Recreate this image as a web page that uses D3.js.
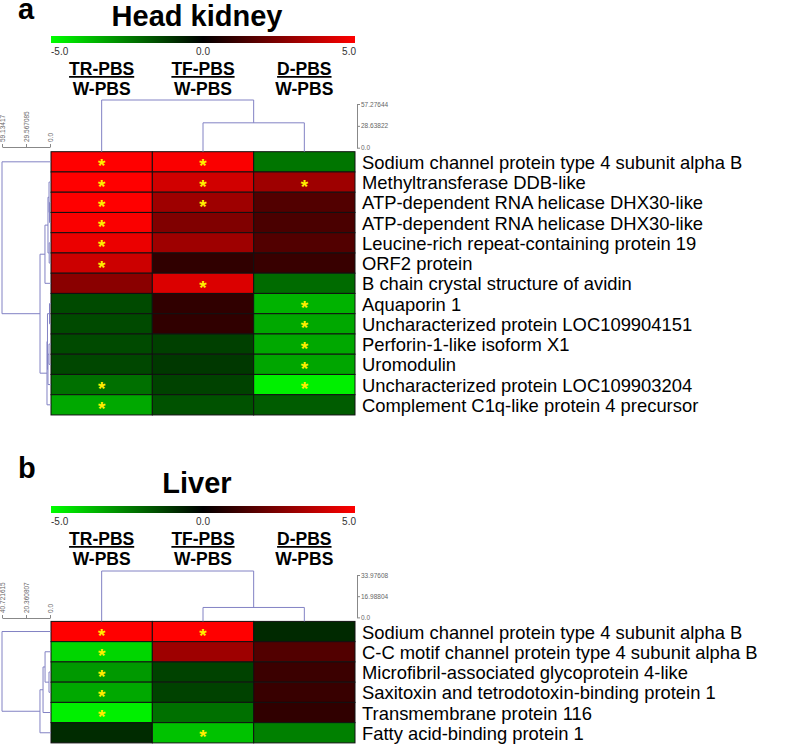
<!DOCTYPE html>
<html>
<head>
<meta charset="utf-8">
<script src="https://cdn.jsdelivr.net/npm/d3@7"></script>
<style>
  body { margin: 0; background: #fff; }
  svg text { font-family: "Liberation Sans", Arial, sans-serif; }
</style>
</head>
<body>
<svg id="chart" width="788" height="747"></svg>
<script>
// ---- data ----
const columns = ["TR-PBS", "TF-PBS", "D-PBS"];
const columnsBottom = ["W-PBS", "W-PBS", "W-PBS"];
const colorTicks = [-5, 0, 5];
const colorTickLabels = ["-5.0", "0.0", "5.0"];

const kidneyGenes = [
  "Sodium channel protein type 4 subunit alpha B",
  "Methyltransferase DDB-like",
  "ATP-dependent RNA helicase DHX30-like",
  "ATP-dependent RNA helicase DHX30-like",
  "Leucine-rich repeat-containing protein 19",
  "ORF2 protein",
  "B chain crystal structure of avidin",
  "Aquaporin 1",
  "Uncharacterized protein LOC109904151",
  "Perforin-1-like isoform X1",
  "Uromodulin",
  "Uncharacterized protein LOC109903204",
  "Complement C1q-like protein 4 precursor"
];
const kidneyValues = [
  [5.0, 4.9, -2.3],
  [5.0, 4.1, 3.1],
  [5.0, 3.1, 1.6],
  [4.9, 2.5, 1.45],
  [4.6, 3.1, 1.6],
  [4.0, 0.95, 1.1],
  [2.7, 4.3, -2.1],
  [-1.45, 0.95, -3.5],
  [-1.45, 0.95, -3.3],
  [-1.45, -1.25, -3.3],
  [-1.4, -1.1, -3.25],
  [-2.2, -1.3, -4.7],
  [-3.3, -1.6, -1.8]
];
const kidneyStars = [
  [1, 1, 0], [1, 1, 1], [1, 1, 0], [1, 0, 0], [1, 0, 0], [1, 0, 0], [0, 1, 0],
  [0, 0, 1], [0, 0, 1], [0, 0, 1], [0, 0, 1], [1, 0, 1], [1, 0, 0]
];
// linkage rows: [childA, childB, height]; ids >= n are earlier merges
const kidneyRowLinkage = [
  [2, 3, 0.6], [1, 13, 1.2], [4, 5, 1.0], [14, 15, 2.5], [16, 6, 6.2],
  [7, 8, 0.6], [9, 10, 1.2], [19, 11, 2.5], [18, 20, 3.1], [21, 12, 3.7],
  [17, 22, 12.3], [0, 23, 59.13417]
];
const kidneyRowAxis = ["59.13417", "29.567085", "0.0"];
const kidneyColLinkage = [[1, 2, 32], [0, 3, 57.27644]];
const kidneyColAxis = ["57.27644", "28.63822", "0.0"];

const liverGenes = [
  "Sodium channel protein type 4 subunit alpha B",
  "C-C motif channel protein type 4 subunit alpha B",
  "Microfibril-associated glycoprotein 4-like",
  "Saxitoxin and tetrodotoxin-binding protein 1",
  "Transmembrane protein 116",
  "Fatty acid-binding protein 1"
];
const liverValues = [
  [5.0, 5.0, -0.8],
  [-4.2, 3.1, 1.6],
  [-3.0, -1.3, 1.15],
  [-3.3, -1.3, 1.1],
  [-4.7, -2.2, 0.95],
  [-0.85, -3.8, -2.5]
];
const liverStars = [[1, 1, 0], [1, 0, 0], [1, 0, 0], [1, 0, 0], [1, 0, 0], [0, 1, 0]];
const liverRowLinkage = [[2, 3, 0.85], [1, 6, 4.2], [7, 4, 5.9], [8, 5, 8.5], [0, 9, 40.721615]];
const liverRowAxis = ["40.721615", "20.360807", "0.0"];
const liverColLinkage = [[1, 2, 9.4], [0, 3, 33.97608]];
const liverColAxis = ["33.97608", "16.98804", "0.0"];

// ---- drawing ----
const svg = d3.select("#chart");
const color = d3.scaleLinear().domain(colorTicks).range(["#00ff00", "#000000", "#ff0000"]).clamp(true);
const dendroColor = "#8282c4";
const heatLeft = 51, heatRight = 355, rowH = 20.25;

const grad = svg.append("defs").append("linearGradient").attr("id", "cbar");
grad.selectAll("stop").data(colorTicks).join("stop")
  .attr("offset", (d, i) => i / (colorTicks.length - 1))
  .attr("stop-color", d => color(d));

function nodes(n, linkage, leafPos) {
  const pos = leafPos.slice(), h = new Array(n).fill(0);
  linkage.forEach(([a, b, d], k) => { pos[n + k] = (pos[a] + pos[b]) / 2; h[n + k] = d; });
  return { pos, h };
}

function panel(p) {
  const g = svg.append("g");
  const nRows = p.genes.length;
  const heatBottom = p.heatTop + nRows * rowH;
  const x = d3.scaleBand().domain(d3.range(columns.length)).range([heatLeft, heatRight]);
  const y = d3.scaleBand().domain(d3.range(nRows)).range([p.heatTop, heatBottom]);

  g.append("text").attr("x", 18).attr("y", p.letterY).attr("font-size", 29)
    .attr("font-weight", "bold").text(p.letter);
  g.append("text").attr("x", 197).attr("y", p.titleY).attr("text-anchor", "middle")
    .attr("font-size", 29).attr("font-weight", "bold").text(p.title);

  // colour bar
  g.append("rect").attr("x", heatLeft).attr("y", p.barY).attr("width", heatRight - heatLeft)
    .attr("height", 7).attr("fill", "url(#cbar)");
  const cx = d3.scaleLinear().domain([-5, 5]).range([heatLeft, heatRight]);
  g.selectAll(".cb").data(colorTicks).join("text")
    .attr("x", d => cx(d) + (d > 0 ? 1 : 0))
    .attr("y", p.barY + 19).attr("font-size", 10).attr("fill", "#333")
    .attr("text-anchor", (d, i) => i === 0 ? "start" : i === colorTicks.length - 1 ? "end" : "middle")
    .text((d, i) => colorTickLabels[i]);

  // column headers
  g.selectAll(".h1").data(columns).join("text")
    .attr("x", (d, i) => x(i) + x.bandwidth() / 2).attr("y", p.barY + 39)
    .attr("text-anchor", "middle").attr("font-size", 17.5).attr("font-weight", "bold")
    .attr("text-decoration", "underline").text(d => d);
  g.selectAll(".h2").data(columnsBottom).join("text")
    .attr("x", (d, i) => x(i) + x.bandwidth() / 2).attr("y", p.barY + 59)
    .attr("text-anchor", "middle").attr("font-size", 17.5).attr("font-weight", "bold").text(d => d);

  // heatmap cells
  const cells = [];
  p.values.forEach((row, r) => row.forEach((v, c) => cells.push({ r, c, v, s: p.stars[r][c] })));
  g.selectAll(".cell").data(cells).join("rect")
    .attr("x", d => x(d.c)).attr("y", d => y(d.r))
    .attr("width", x.bandwidth()).attr("height", y.bandwidth())
    .attr("fill", d => color(d.v)).attr("stroke", "#111").attr("stroke-width", 1);
  g.selectAll(".star").data(cells.filter(d => d.s)).join("text")
    .attr("x", d => x(d.c) + x.bandwidth() / 2)
    .attr("y", d => y(d.r) + y.bandwidth() / 2 + 10.5)
    .attr("text-anchor", "middle").attr("font-size", 19).attr("font-weight", "bold")
    .attr("fill", "#ffee00").text("*");

  // row labels
  g.selectAll(".lab").data(p.genes).join("text")
    .attr("x", 362).attr("y", (d, i) => y(i) + y.bandwidth() / 2 + 7)
    .attr("font-size", 18.4).attr("fill", "#000").text(d => d);

  // row dendrogram
  const rx = d3.scaleLinear().domain([0, p.rowLinkage[p.rowLinkage.length - 1][2]]).range([50, 2]);
  const rn = nodes(nRows, p.rowLinkage, d3.range(nRows).map(i => y(i) + y.bandwidth() / 2));
  const dg = g.append("g").attr("stroke", dendroColor).attr("fill", "none").attr("stroke-width", 1);
  p.rowLinkage.forEach(([a, b, d]) => {
    const xm = rx(d);
    [a, b].forEach(c => {
      const xc = c < nRows ? heatLeft : rx(rn.h[c]);
      dg.append("line").attr("x1", xc).attr("x2", xm).attr("y1", rn.pos[c]).attr("y2", rn.pos[c]);
    });
    dg.append("line").attr("x1", xm).attr("x2", xm).attr("y1", rn.pos[a]).attr("y2", rn.pos[b]);
  });
  const rmax = rx.domain()[1];
  const rAxis = g.append("g").attr("transform", `translate(0,${p.rowAxisY})`)
    .call(d3.axisTop(rx).tickValues([rmax, rmax / 2, 0]).tickSize(3).tickSizeOuter(0)
      .tickFormat((d, i) => p.rowAxis[i]));
  rAxis.select(".domain").attr("stroke", "#888");
  rAxis.selectAll(".tick line").attr("stroke", "#888");
  rAxis.selectAll(".tick text").attr("font-size", 6.5).attr("fill", "#666")
    .attr("text-anchor", "start").attr("transform", "rotate(-90)")
    .attr("x", 5).attr("y", 0).attr("dy", "0.32em");

  // column dendrogram
  const cmax = p.colLinkage[p.colLinkage.length - 1][2];
  const cy = d3.scaleLinear().domain([0, cmax]).range([p.heatTop, p.colTop]);
  const cn = nodes(columns.length, p.colLinkage, d3.range(columns.length).map(i => x(i) + x.bandwidth() / 2));
  p.colLinkage.forEach(([a, b, d]) => {
    const ym = cy(d);
    [a, b].forEach(c => {
      const yc = c < columns.length ? p.heatTop : cy(cn.h[c]);
      dg.append("line").attr("x1", cn.pos[c]).attr("x2", cn.pos[c]).attr("y1", yc).attr("y2", ym);
    });
    dg.append("line").attr("x1", cn.pos[a]).attr("x2", cn.pos[b]).attr("y1", ym).attr("y2", ym);
  });
  const ca = d3.scaleLinear().domain([0, cmax]).range([p.heatTop - 4, p.colTop + 4]);
  const cAxis = g.append("g").attr("transform", "translate(357,0)")
    .call(d3.axisRight(ca).tickValues([cmax, cmax / 2, 0]).tickSize(3).tickSizeOuter(0)
      .tickFormat((d, i) => p.colAxis[i]));
  cAxis.select(".domain").attr("stroke", "#888");
  cAxis.selectAll(".tick line").attr("stroke", "#888");
  cAxis.selectAll(".tick text").attr("font-size", 6.5).attr("fill", "#666").attr("x", 4);
}

panel({
  letter: "a", letterY: 19, title: "Head kidney", titleY: 26, barY: 36,
  colTop: 100, heatTop: 151.7, rowAxisY: 147,
  genes: kidneyGenes, values: kidneyValues, stars: kidneyStars,
  rowLinkage: kidneyRowLinkage, rowAxis: kidneyRowAxis,
  colLinkage: kidneyColLinkage, colAxis: kidneyColAxis
});
panel({
  letter: "b", letterY: 478, title: "Liver", titleY: 493, barY: 506,
  colTop: 571, heatTop: 621.4, rowAxisY: 618,
  genes: liverGenes, values: liverValues, stars: liverStars,
  rowLinkage: liverRowLinkage, rowAxis: liverRowAxis,
  colLinkage: liverColLinkage, colAxis: liverColAxis
});
</script>
</body>
</html>
